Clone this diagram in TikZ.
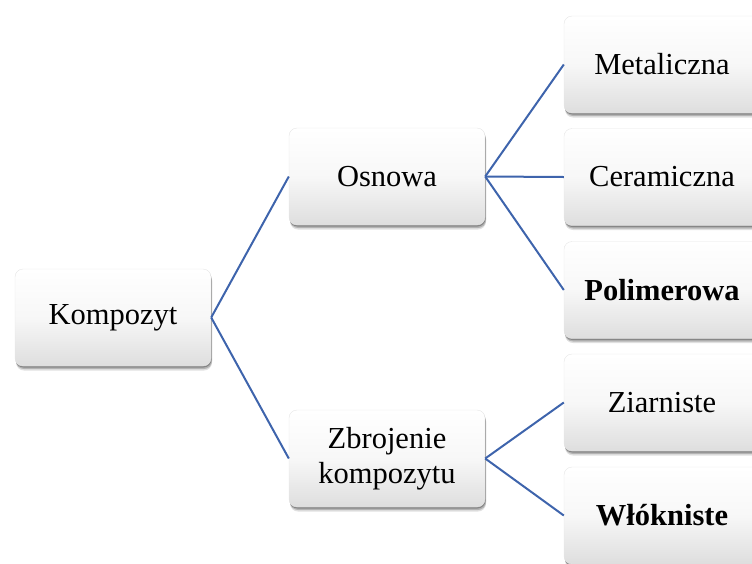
\documentclass[tikz,border=0pt]{standalone}
\usepackage{fontspec}
\setmainfont{Liberation Serif}
\usetikzlibrary{shadows,shadings}
\definecolor{linkblue}{RGB}{62,100,172}
\tikzset{
  box/.style={rounded corners=8pt, minimum width=196pt, minimum height=97pt,
    inner sep=0pt, align=center, font=\fontsize{30.5}{35}\selectfont,
    top color=white, bottom color=black!13, middle color=white!97!black,
    draw=black!10, line width=0.4pt,
    general shadow={shadow xshift=1pt, shadow yshift=-4.5pt, fill=black, opacity=0.12, shadow scale=1.0},
    general shadow={shadow xshift=1pt, shadow yshift=-3pt, fill=black, opacity=0.2, shadow scale=1.0},
    general shadow={shadow xshift=0.5pt, shadow yshift=-1.5pt, fill=black, opacity=0.25, shadow scale=1.0}},
  link/.style={draw=linkblue, line width=2pt}
}
\begin{document}
\begin{tikzpicture}[x=1pt,y=-1pt]
\useasboundingbox (0,0) rectangle (752,563);
\node[box] (komp) at (113,317.5) {Kompozyt};
\node[box] (osn) at (387,176.5) {Osnowa};
\node[box] (zbr) at (387,458.5) {Zbrojenie\\kompozytu};
\node[box] (met) at (662,64.5) {Metaliczna};
\node[box] (cer) at (662,177) {Ceramiczna};
\node[box] (pol) at (662,290) {\textbf{Polimerowa}};
\node[box] (ziar) at (662,402.5) {Ziarniste};
\node[box] (wlok) at (662,515.5) {\textbf{Włókniste}};
\draw[link] (komp.east) -- (osn.west);
\draw[link] (komp.east) -- (zbr.west);
\draw[link] (osn.east) -- (met.west);
\draw[link] (osn.east) -- (cer.west);
\draw[link] (osn.east) -- (pol.west);
\draw[link] (zbr.east) -- (ziar.west);
\draw[link] (zbr.east) -- (wlok.west);
\end{tikzpicture}
\end{document}
